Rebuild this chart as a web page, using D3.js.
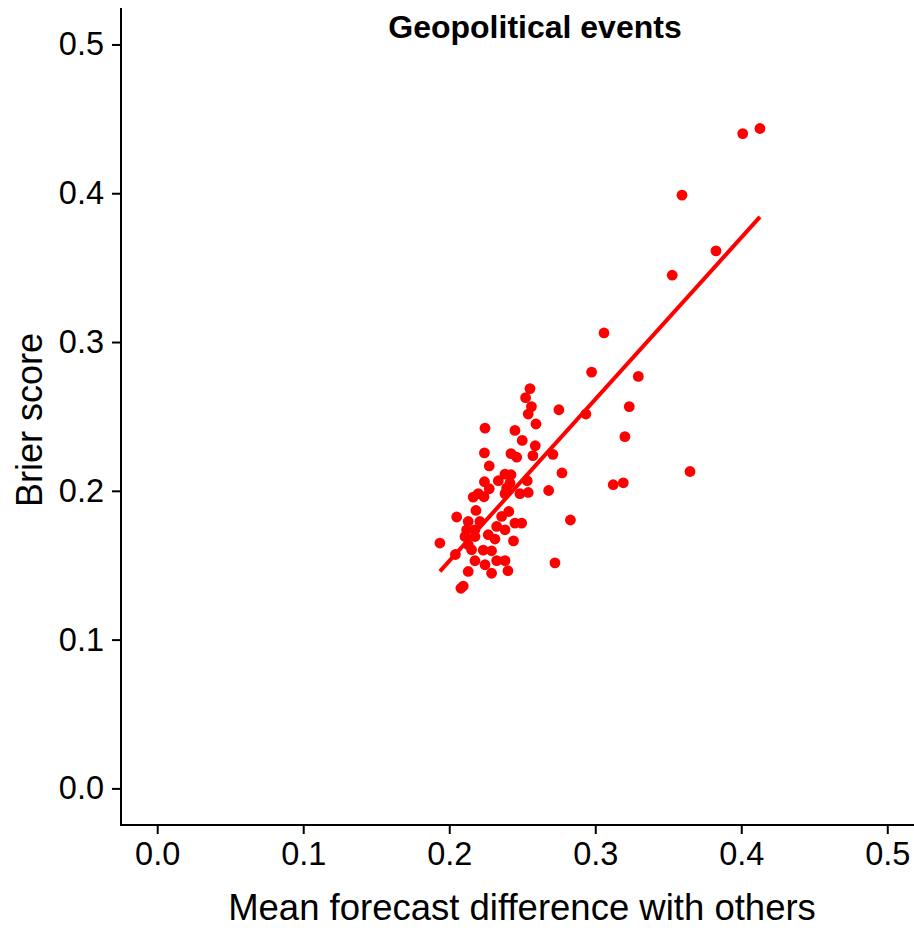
<!DOCTYPE html>
<html>
<head>
<meta charset="utf-8">
<script src="https://cdn.jsdelivr.net/npm/d3@7"></script>
<style>
  html, body { margin: 0; padding: 0; background: #fff; }
  svg { display: block; }
</style>
</head>
<body>
<svg id="chart" width="914" height="928"></svg>
<script>
// ---- data ----
const chartTitle = "Geopolitical events";
const xLabel = "Mean forecast difference with others";
const yLabel = "Brier score";
const xTicks = [0.0, 0.1, 0.2, 0.3, 0.4, 0.5];
const yTicks = [0.0, 0.1, 0.2, 0.3, 0.4, 0.5];

const meanDiff = [
  0.4128, 0.4010, 0.3594, 0.3827, 0.3527, 0.3060, 0.2975, 0.3295, 0.2553, 0.2523,
  0.2563, 0.2751, 0.2936, 0.3233, 0.2541, 0.2594, 0.2245, 0.2450, 0.3203, 0.2500,
  0.2589, 0.2241, 0.2423, 0.2462, 0.2573, 0.2710, 0.2274, 0.2772, 0.3649, 0.2382,
  0.2423, 0.3123, 0.3192, 0.2336, 0.2241, 0.2416, 0.2534, 0.2274, 0.2393, 0.2681,
  0.2164, 0.2199, 0.2238, 0.2382, 0.2484, 0.2541, 0.2183, 0.2408, 0.2051, 0.2130,
  0.2210, 0.2359, 0.2450, 0.2496, 0.2830, 0.2119, 0.2176, 0.2325, 0.2382, 0.2108,
  0.2176, 0.2267, 0.2313, 0.2440, 0.1936, 0.2130, 0.2153, 0.2233, 0.2290, 0.2042,
  0.2176, 0.2245, 0.2325, 0.2382, 0.2724, 0.2130, 0.2290, 0.2402, 0.2080, 0.2096
];
const brier = [
  0.4435, 0.4401, 0.3987, 0.3613, 0.3449, 0.3061, 0.2798, 0.2769, 0.2687, 0.2626,
  0.2566, 0.2545, 0.2516, 0.2566, 0.2516, 0.2449, 0.2421, 0.2406, 0.2364, 0.2339,
  0.2303, 0.2255, 0.2250, 0.2226, 0.2237, 0.2245, 0.2167, 0.2120, 0.2130, 0.2112,
  0.2108, 0.2041, 0.2054, 0.2068, 0.2061, 0.2052, 0.2068, 0.2014, 0.2019, 0.2002,
  0.1958, 0.1981, 0.1960, 0.1981, 0.1981, 0.1989, 0.1868, 0.1861, 0.1824, 0.1794,
  0.1794, 0.1828, 0.1783, 0.1783, 0.1804, 0.1738, 0.1738, 0.1761, 0.1738, 0.1693,
  0.1693, 0.1705, 0.1676, 0.1664, 0.1649, 0.1638, 0.1604, 0.1601, 0.1597, 0.1572,
  0.1530, 0.1503, 0.1531, 0.1531, 0.1516, 0.1458, 0.1446, 0.1463, 0.1345, 0.1360
];
// fitted regression line: endpoints
const fitX = [0.1936, 0.4128];
const fitY = [0.1458, 0.3841];

// ---- chart ----
const svg = d3.select("#chart");
const panel = { left: 121, right: 914, top: 8, bottom: 825 };

const x = d3.scaleLinear().domain([-0.0248, 0.5183]).range([panel.left, panel.right]);
const y = d3.scaleLinear().domain([-0.0246, 0.5245]).range([panel.bottom, panel.top]);

const font = "'Liberation Sans', Arial, Helvetica, sans-serif";

// points
const pts = meanDiff.map((d, i) => ({ x: d, y: brier[i] }));
svg.append("g")
  .selectAll("circle")
  .data(pts)
  .join("circle")
  .attr("cx", d => x(d.x))
  .attr("cy", d => y(d.y))
  .attr("r", 5.4)
  .attr("fill", "#ff0000");

// regression line
const fit = fitX.map((d, i) => [d, fitY[i]]);
svg.append("path")
  .datum(fit)
  .attr("d", d3.line().x(d => x(d[0])).y(d => y(d[1])))
  .attr("fill", "none")
  .attr("stroke", "#ff0000")
  .attr("stroke-width", 4);

// axes
const xAxis = d3.axisBottom(x).tickValues(xTicks).tickFormat(d3.format(".1f"))
  .tickSize(9).tickPadding(8).tickSizeOuter(0);
const yAxis = d3.axisLeft(y).tickValues(yTicks).tickFormat(d3.format(".1f"))
  .tickSize(9).tickPadding(8).tickSizeOuter(0);

const gx = svg.append("g").attr("transform", `translate(0,${panel.bottom})`).call(xAxis);
const gy = svg.append("g").attr("transform", `translate(${panel.left},0)`).call(yAxis);

[gx, gy].forEach(g => {
  g.select(".domain").remove();
  g.selectAll(".tick line").attr("stroke", "#000").attr("stroke-width", 2);
  g.selectAll(".tick text")
    .attr("fill", "#000")
    .style("font-family", font)
    .style("font-size", "32.5px");
});

// axis lines
svg.append("line")
  .attr("x1", panel.left).attr("x2", panel.left)
  .attr("y1", panel.top).attr("y2", panel.bottom + 1)
  .attr("stroke", "#000").attr("stroke-width", 2);
svg.append("line")
  .attr("x1", panel.left - 1).attr("x2", panel.right)
  .attr("y1", panel.bottom).attr("y2", panel.bottom)
  .attr("stroke", "#000").attr("stroke-width", 2);

// title
svg.append("text")
  .attr("x", 535).attr("y", 38)
  .attr("text-anchor", "middle")
  .style("font-family", font)
  .style("font-weight", "bold")
  .style("font-size", "32px")
  .attr("fill", "#000")
  .text(chartTitle);

// x label
svg.append("text")
  .attr("x", 522).attr("y", 920)
  .attr("text-anchor", "middle")
  .style("font-family", font)
  .style("font-size", "36.5px")
  .attr("fill", "#000")
  .text(xLabel);

// y label
svg.append("text")
  .attr("transform", `translate(42,420) rotate(-90)`)
  .attr("text-anchor", "middle")
  .style("font-family", font)
  .style("font-size", "36px")
  .attr("fill", "#000")
  .text(yLabel);
</script>
</body>
</html>
